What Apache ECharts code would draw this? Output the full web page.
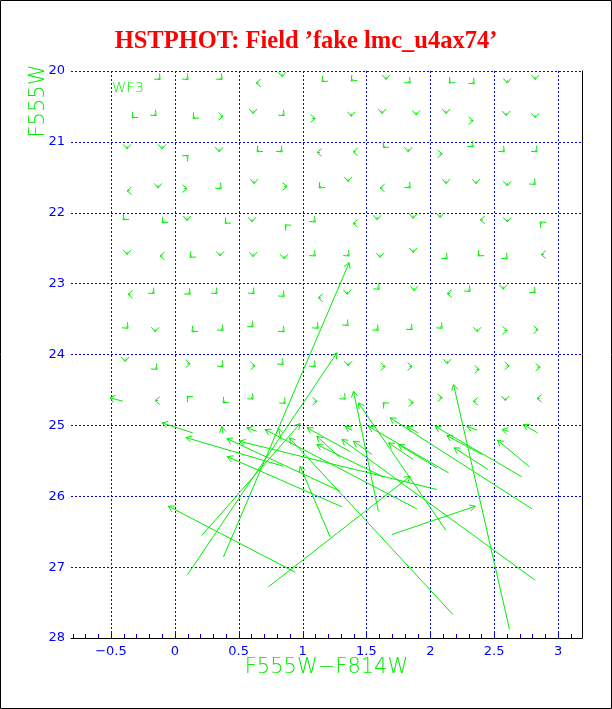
<!DOCTYPE html>
<html><head><meta charset="utf-8">
<script src="https://cdn.jsdelivr.net/npm/echarts@6/dist/echarts.min.js"></script>
<style>html,body{margin:0;padding:0;background:#fff}#c{width:612px;height:709px}</style>
</head><body><div id="c"></div>
<script>
// ---- axis ticks ----
const xMajorTicks = [-0.5, 0, 0.5, 1, 1.5, 2, 2.5, 3];
const xMinorTicks = [-0.8,-0.7,-0.6,-0.4,-0.3,-0.2,-0.1,0.1,0.2,0.3,0.4,0.6,0.7,0.8,0.9,1.1,1.2,1.3,1.4,1.6,1.7,1.8,1.9,2.1,2.2,2.3,2.4,2.6,2.7,2.8,2.9,3.1];
const yTicks = [20, 21, 22, 23, 24, 25, 26, 27, 28];

// ---- large-error fake stars: tail (input) -> head (output) ----
const longX0 = [0.141,0.850,1.308,0.642,0.378,1.216,0.942,0.099,0.211,0.381,0.733,2.177,1.594,1.699,2.122,2.620,2.839,2.612,2.370,2.777,2.717,2.796,2.821,1.895,2.052,1.294,2.143,1.868,2.052,1.905,1.388,2.406,2.453,1.294,1.372,0.832,1.545,1.631];
const longY0 = [25.106,25.577,26.149,25.083,25.116,26.573,27.072,27.109,26.554,26.855,27.278,27.669,26.212,26.540,26.480,27.880,25.106,25.083,25.069,25.585,25.726,26.178,27.185,26.178,25.905,25.929,25.670,25.482,25.599,25.106,25.073,25.412,25.623,25.454,25.370,25.200,25.412,25.726];
const longX1 = [-0.100,0.088,0.410,0.564,0.368,0.981,-0.050,1.269,0.981,1.365,1.843,0.897,1.399,2.352,1.438,2.182,2.730,2.561,2.287,2.526,2.038,1.686,1.308,0.707,0.506,0.407,1.516,1.673,1.751,1.817,1.334,2.130,2.187,1.112,1.036,0.811,1.399,1.112];
const longY1 = [24.965,25.172,25.440,25.035,25.017,25.577,26.141,23.977,24.975,22.704,25.718,25.176,24.519,26.141,24.683,24.425,24.989,25.059,25.013,25.210,25.013,24.894,25.200,25.059,25.224,25.186,25.013,25.247,25.271,25.013,25.013,25.144,25.317,25.154,25.035,25.035,25.224,25.271];

// ---- well-measured fake stars: head (output) and tail offset ----
const tinyC = [
 -0.115,0.104,0.370,0.637,0.840,1.153,1.381,1.654,1.843,2.148,2.344,2.602,2.821,
 -0.334,-0.146,0.143,0.378,0.613,0.856,1.099,1.381,1.623,1.889,2.124,2.336,2.594,2.821,
 -0.374,-0.099,0.104,0.347,0.644,0.840,1.114,1.396,1.631,1.827,2.093,2.336,2.579,2.836,
 -0.374,-0.131,0.096,0.363,0.621,0.879,1.130,1.357,1.607,1.843,2.124,2.359,2.602,2.821,
 -0.405,-0.099,0.096,0.394,0.605,0.864,1.099,1.396,1.584,1.866,2.077,2.391,2.602,2.860,
 -0.374,-0.115,0.120,0.355,0.613,0.856,1.099,1.365,1.607,1.866,2.132,2.375,2.602,2.868,
 -0.366,-0.162,0.120,0.331,0.621,0.856,1.122,1.350,1.600,1.874,2.132,2.312,2.571,2.821,
 -0.366,-0.154,0.135,0.378,0.613,0.856,1.122,1.357,1.592,1.858,2.093,2.367,2.602,2.844,
 -0.389,-0.139,0.120,0.378,0.629,0.848,1.099,1.357,1.647,1.858,2.132,2.383,2.618,2.860,
 -0.507,-0.154,0.096,0.378,0.613,0.864,1.114,1.334,1.631,1.866,2.093,2.336,2.587,2.836];
const tinyM = [
 20.12,20.12,20.12,20.17,20.08,20.15,20.14,20.12,20.17,20.17,20.18,20.17,20.12,
 20.66,20.63,20.67,20.64,20.60,20.63,20.67,20.64,20.60,20.62,20.60,20.70,20.63,20.66,
 21.10,21.10,21.19,21.14,21.14,21.14,21.15,21.14,21.08,21.14,21.17,21.07,21.14,21.14,
 21.69,21.65,21.66,21.66,21.59,21.63,21.65,21.56,21.65,21.65,21.59,21.59,21.62,21.60,
 22.10,22.14,22.11,22.15,22.13,22.17,22.13,22.15,22.10,22.08,22.07,22.10,22.13,22.13,
 22.59,22.61,22.63,22.61,22.62,22.65,22.61,22.61,22.63,22.56,22.65,22.61,22.65,22.59,
 23.15,23.14,23.15,23.14,23.14,23.18,23.20,23.15,23.08,23.10,23.14,23.11,23.08,23.13,
 23.63,23.68,23.68,23.66,23.61,23.68,23.63,23.59,23.66,23.65,23.63,23.68,23.66,23.65,
 24.10,24.21,24.13,24.17,24.16,24.14,24.17,24.16,24.17,24.17,24.13,24.21,24.16,24.18,
 24.61,24.65,24.59,24.68,24.63,24.69,24.66,24.63,24.68,24.68,24.61,24.66,24.65,24.62];
const tinyDC = [
 -0.016,-0.016,-0.016,0.022,0,0.016,0.016,0,-0.016,0.016,-0.016,0,0,
 0.016,-0.016,0.016,-0.022,0,-0.016,-0.022,0,0,0,0,-0.022,0,0,
 0,0,-0.016,0,0.016,-0.016,0.022,0.022,0.016,0,-0.022,-0.016,-0.016,-0.016,
 0.022,0,-0.022,-0.016,0,-0.022,0.016,0,0.022,-0.016,0,0,0,-0.016,
 0.016,0.016,0,0.016,0,0.016,-0.016,0.022,0,0,0,0.022,0,0.016,
 0,0.022,0.016,0,0,0,-0.016,-0.016,0,0,-0.016,0.016,-0.016,0.022,
 0.022,-0.016,-0.016,-0.016,-0.016,-0.016,0.022,0,-0.016,0,0.022,-0.016,0,-0.016,
 -0.016,0,0.016,-0.016,-0.016,-0.016,-0.016,-0.016,-0.016,-0.016,-0.016,0,-0.022,-0.022,
 0,-0.016,-0.022,-0.016,-0.022,-0.016,-0.016,0,-0.022,-0.022,0,-0.022,-0.022,-0.022,
 0.100,0.022,0.016,0.016,-0.016,-0.016,-0.022,-0.016,0.016,-0.022,-0.022,0.022,0,0.022];
const tinyDM = [
 -0.028,-0.028,-0.028,0,-0.04,-0.028,-0.028,-0.04,-0.028,-0.028,-0.028,-0.04,-0.04,
 -0.028,-0.028,-0.028,0,-0.04,-0.028,0,-0.04,-0.04,-0.04,-0.04,0,-0.04,-0.04,
 -0.04,-0.04,0.028,-0.04,-0.028,-0.028,0,0,-0.028,-0.04,0,-0.028,-0.028,-0.028,
 0,-0.04,0,-0.028,-0.04,0,-0.028,-0.04,0,-0.028,-0.04,-0.04,-0.04,-0.028,
 -0.028,-0.028,-0.04,-0.028,-0.04,0.028,-0.028,0,-0.04,-0.04,-0.04,0,-0.04,0.028,
 -0.04,0,-0.028,-0.04,-0.04,-0.04,-0.028,-0.028,-0.04,-0.04,-0.028,-0.028,-0.028,0,
 0,-0.028,-0.028,-0.028,-0.028,-0.028,0,-0.04,-0.028,-0.04,0,-0.028,-0.04,-0.028,
 -0.028,-0.04,-0.028,-0.028,-0.028,-0.028,-0.028,-0.028,-0.028,-0.028,-0.028,-0.04,0,0,
 -0.04,-0.028,0,-0.028,0,-0.028,-0.028,-0.04,0,0,-0.04,0,0,0,
 0.05,0,0.028,-0.028,-0.028,-0.028,0,-0.028,0.028,0,0,0,-0.04,0];

const GREEN = '#00ee00', BLUE = '#0000ff';

const longData = longX0.map((v, i) => [v, longY0[i], longX1[i], longY1[i]]);
const tinyData = tinyC.map((c, i) => [c + tinyDC[i], tinyM[i] + tinyDM[i], c, tinyM[i]]);

function arrowRenderer(headLen, headDeg) {
  return function (params, api) {
    const p0 = api.coord([api.value(0), api.value(1)]);
    const p1 = api.coord([api.value(2), api.value(3)]);
    const ang = Math.atan2(p1[1] - p0[1], p1[0] - p0[0]);
    const a = headDeg * Math.PI / 180;
    const b1 = [p1[0] - headLen * Math.cos(ang - a), p1[1] - headLen * Math.sin(ang - a)];
    const b2 = [p1[0] - headLen * Math.cos(ang + a), p1[1] - headLen * Math.sin(ang + a)];
    return { type: 'group', children: [
      { type: 'line', shape: { x1: p0[0], y1: p0[1], x2: p1[0], y2: p1[1] }, style: { stroke: GREEN, lineWidth: 1 } },
      { type: 'polyline', shape: { points: [b1, p1, b2] }, style: { stroke: GREEN, lineWidth: 1, fill: null } }
    ]};
  };
}
function vGridRenderer(params, api) {
  const a = api.coord([api.value(0), 20]);
  const b = api.coord([api.value(0), 28]);
  const x = Math.round(a[0]) + 0.5;
  return { type: 'line', shape: { x1: x, y1: a[1], x2: x, y2: b[1] }, style: { stroke: BLUE, lineWidth: 1, lineDash: [2, 2] } };
}
function tickRenderer(len) {
  return function (params, api) {
    const p = api.coord([api.value(0), 28]);
    const x = Math.round(p[0]) + 0.5;
    return { type: 'line', shape: { x1: x, y1: p[1], x2: x, y2: p[1] - len }, style: { stroke: BLUE, lineWidth: 1 } };
  };
}

const chart = echarts.init(document.getElementById('c'), null, { renderer: 'canvas' });
chart.setOption({
  backgroundColor: '#ffffff',
  animation: false,
  title: {
    text: 'HSTPHOT: Field \u2019fake lmc_u4ax74\u2019',
    left: 'center', top: 24,
    textStyle: { fontFamily: 'Liberation Serif', fontWeight: 'bold', fontSize: 24.5, color: '#ff0000' }
  },
  grid: { left: 71, right: 30, top: 71, bottom: 71, containLabel: false },
  xAxis: [{
    type: 'value', min: -0.8125, max: 3.1875, position: 'bottom',
    axisLine: { show: true, onZero: false, lineStyle: { color: '#000000', width: 1 } },
    axisTick: { show: false },
    splitLine: { show: false },
    axisLabel: {
      customValues: xMajorTicks, color: BLUE, fontSize: 13, fontFamily: 'DejaVu Sans', margin: 7,
      formatter: v => String(v).replace('-', '\u2212')
    }
  }],
  yAxis: [{
    type: 'value', min: 20, max: 28, interval: 1, inverse: true, position: 'left',
    axisLine: { show: false }, axisTick: { show: false },
    splitLine: { show: true, lineStyle: { color: BLUE, type: [2, 2], width: 1 } },
    axisLabel: { color: BLUE, fontSize: 13, fontFamily: 'DejaVu Sans', margin: 6 }
  }, {
    type: 'value', min: 20, max: 28, inverse: true, position: 'right',
    axisLine: { show: true, lineStyle: { color: '#000000', width: 1 } },
    axisTick: { show: false }, axisLabel: { show: false }, splitLine: { show: false }
  }],
  graphic: [
    { type: 'rect', shape: { x: 0.5, y: 0.5, width: 611, height: 708 }, style: { stroke: '#000', fill: null, lineWidth: 1 }, silent: true },
    { type: 'text', x: 326.5, y: 668, style: { text: 'F555W\u2212F814W', fill: GREEN, fontSize: 21, fontFamily: 'DejaVu Sans', fontWeight: 200, align: 'center', verticalAlign: 'middle' } },
    { type: 'text', x: 38.5, y: 101, rotation: Math.PI / 2, style: { text: 'F555W', fill: GREEN, fontSize: 21, fontFamily: 'DejaVu Sans', fontWeight: 200, align: 'center', verticalAlign: 'middle' } },
    { type: 'text', x: 112, y: 81, style: { text: 'WF3', fill: GREEN, fontSize: 14.5, fontFamily: 'DejaVu Sans', fontWeight: 200, align: 'left', verticalAlign: 'top' } }
  ],
  series: [
    { type: 'custom', name: 'vgrid', data: xMajorTicks.map(v => [v]), renderItem: vGridRenderer, silent: true, z: 1, encode: { x: 0 } },
    { type: 'custom', name: 'majorTicks', data: xMajorTicks.map(v => [v]), renderItem: tickRenderer(6), silent: true, z: 3, encode: { x: 0 } },
    { type: 'custom', name: 'minorTicks', data: xMinorTicks.map(v => [v]), renderItem: tickRenderer(4), silent: true, z: 3, encode: { x: 0 } },
    { type: 'custom', name: 'tiny', data: tinyData, renderItem: arrowRenderer(6, 40), silent: true, z: 5, encode: { x: [0, 2], y: [1, 3] } },
    { type: 'custom', name: 'long', data: longData, renderItem: arrowRenderer(6.5, 30), silent: true, z: 5, encode: { x: [0, 2], y: [1, 3] } }
  ]
});
</script></body></html>
